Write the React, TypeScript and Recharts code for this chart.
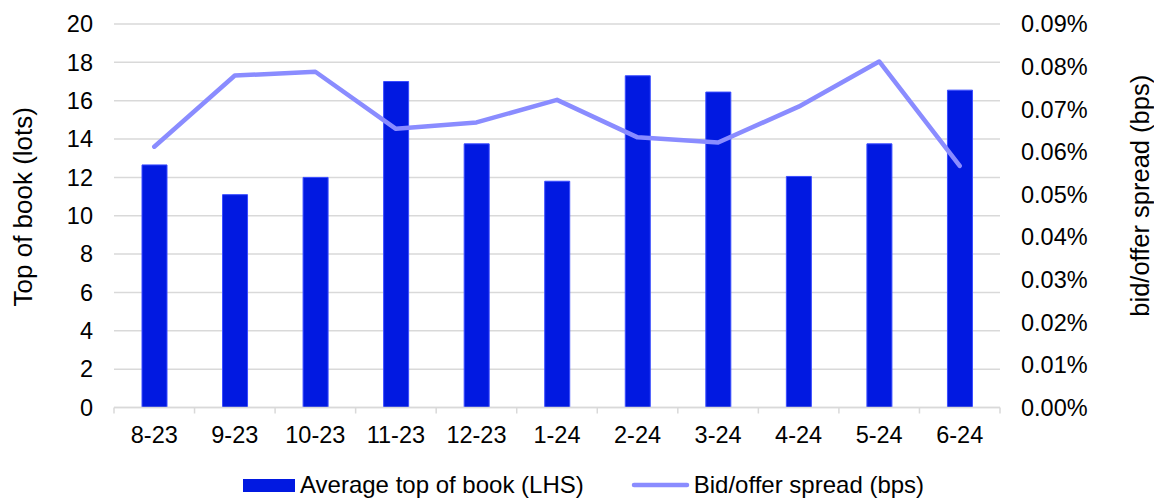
import React from "react";
import {
  ComposedChart,
  Bar,
  Line,
  XAxis,
  YAxis,
  CartesianGrid,
  Legend,
} from "recharts";

const months = ["8-23", "9-23", "10-23", "11-23", "12-23", "1-24", "2-24", "3-24", "4-24", "5-24", "6-24"];
const topOfBook = [12.65, 11.1, 12.0, 17.0, 13.75, 11.8, 17.3, 16.45, 12.05, 13.75, 16.55];
const spreadPct = [0.0612, 0.0779, 0.0788, 0.0654, 0.0669, 0.0722, 0.0634, 0.0622, 0.0706, 0.0812, 0.0567];
const leftTicks = [0, 2, 4, 6, 8, 10, 12, 14, 16, 18, 20];
const rightTicks = [0, 0.01, 0.02, 0.03, 0.04, 0.05, 0.06, 0.07, 0.08, 0.09];

const data = months.map((m, i) => ({ month: m, book: topOfBook[i], spread: spreadPct[i] }));

const W = 1154;
const H = 499;
const LEFT_W = 114;
const RIGHT_W = 154;
const BAND = (W - LEFT_W - RIGHT_W) / months.length;
const TICK_SIZE = 6;
const TICK_MARGIN = 13;
const FONT = "'Liberation Sans', Arial, sans-serif";
const GRID = "#d9d9d9";

const XTick = (props: any) => {
  const { x, y, payload } = props;
  const axisY = y - TICK_SIZE - TICK_MARGIN;
  const half = BAND / 2;
  const last = payload.value === months[months.length - 1];
  return (
    <g>
      <line x1={x - half} x2={x - half} y1={axisY} y2={axisY + TICK_SIZE} stroke={GRID} strokeWidth={1.5} />
      {last && <line x1={x + half} x2={x + half} y1={axisY} y2={axisY + TICK_SIZE} stroke={GRID} strokeWidth={1.5} />}
      <text x={x} y={y} dy="0.71em" textAnchor="middle" fontSize={23.5} fill="#000" fontFamily={FONT}>
        {payload.value}
      </text>
    </g>
  );
};

const LegendBox = () => (
  <div style={{ display: "flex", alignItems: "center", fontFamily: FONT, fontSize: 24, color: "#000", whiteSpace: "nowrap" }}>
    <span style={{ display: "inline-block", width: 52, height: 13, background: "#0119E1", marginRight: 5 }} />
    <span>Average top of book (LHS)</span>
    <svg width={59} height={10} style={{ marginLeft: 47, marginRight: 4 }}>
      <line x1={3} x2={56} y1={5} y2={5} stroke="#8A8CFF" strokeWidth={4.5} strokeLinecap="round" />
    </svg>
    <span>Bid/offer spread (bps)</span>
  </div>
);

export default function App() {
  return (
    <div style={{ position: "absolute", left: 0, top: 0, width: W, height: H, background: "#fff", overflow: "hidden" }}>
      <ComposedChart width={W} height={H} data={data} margin={{ top: 24, right: 0, bottom: 0, left: 0 }}>
        <CartesianGrid vertical={false} stroke={GRID} strokeWidth={1.5} yAxisId="left" />
        <XAxis
          dataKey="month"
          height={91.5}
          axisLine={{ stroke: GRID, strokeWidth: 1.5 }}
          tickLine={false}
          tickSize={TICK_SIZE}
          tickMargin={TICK_MARGIN}
          tick={<XTick />}
          interval={0}
        />
        <YAxis
          yAxisId="left"
          width={LEFT_W}
          domain={[0, 20]}
          ticks={leftTicks}
          axisLine={false}
          tickLine={false}
          tickSize={0}
          tickMargin={21}
          tick={{ fontSize: 23.5, fill: "#000", fontFamily: FONT }}
          label={({ viewBox }: any) => (
            <text
              x={viewBox.x + 23}
              y={viewBox.y + viewBox.height / 2 - 9}
              transform={`rotate(-90, ${viewBox.x + 23}, ${viewBox.y + viewBox.height / 2 - 9})`}
              textAnchor="middle"
              dominantBaseline="central"
              fontSize={26}
              fontFamily={FONT}
              fill="#000"
            >
              Top of book (lots)
            </text>
          )}
        />
        <YAxis
          yAxisId="right"
          orientation="right"
          width={RIGHT_W}
          domain={[0, 0.09]}
          ticks={rightTicks}
          axisLine={false}
          tickLine={false}
          tickSize={0}
          tickMargin={21}
          tickFormatter={(v: number) => `${v.toFixed(2)}%`}
          tick={{ fontSize: 23.5, fill: "#000", fontFamily: FONT }}
          label={({ viewBox }: any) => (
            <text
              x={viewBox.x + 140}
              y={viewBox.y + viewBox.height / 2 - 20}
              transform={`rotate(-90, ${viewBox.x + 140}, ${viewBox.y + viewBox.height / 2 - 20})`}
              textAnchor="middle"
              dominantBaseline="central"
              fontSize={25.5}
              fontFamily={FONT}
              fill="#000"
            >
              bid/offer spread (bps)
            </text>
          )}
        />
        <Bar yAxisId="left" dataKey="book" name="Average top of book (LHS)" barSize={25} fill="#0119E1" stroke="#3a4cff" strokeWidth={1} isAnimationActive={false} />
        <Line
          yAxisId="right"
          dataKey="spread"
          name="Bid/offer spread (bps)"
          type="linear"
          stroke="#8A8CFF"
          strokeWidth={4.5}
          strokeLinecap="round"
          strokeLinejoin="round"
          dot={false}
          activeDot={false}
          isAnimationActive={false}
        />
        <Legend
          layout="horizontal"
          verticalAlign="middle"
          content={<LegendBox />}
          wrapperStyle={{ top: 471, left: 243, width: "auto" }}
        />
      </ComposedChart>
    </div>
  );
}
